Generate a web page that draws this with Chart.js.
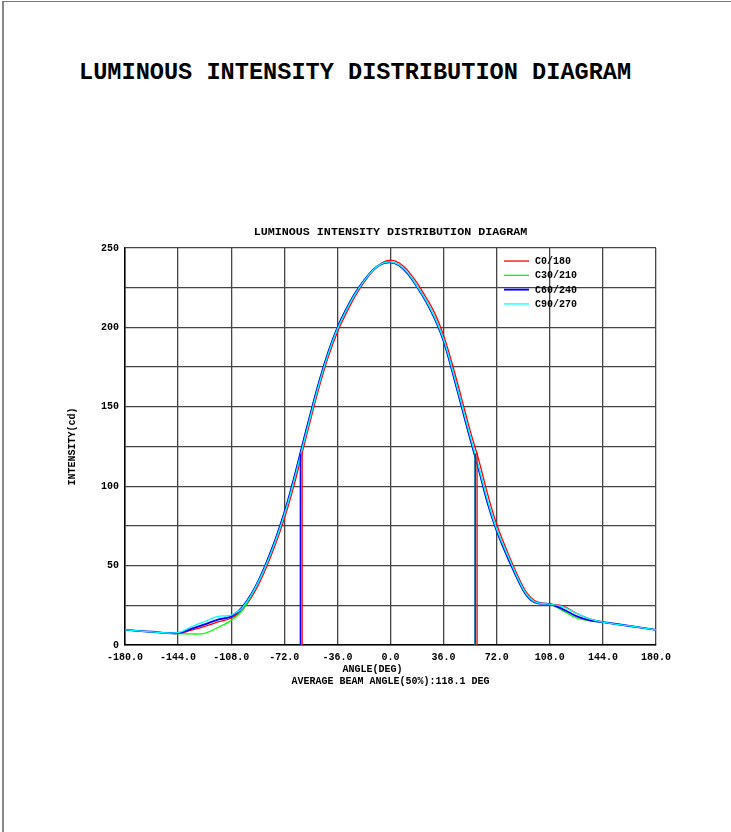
<!DOCTYPE html>
<html>
<head>
<meta charset="utf-8">
<script src="https://cdn.jsdelivr.net/npm/chart.js@4/dist/chart.umd.min.js"></script>
<style>
  body { margin: 0; background: #fff; width: 731px; height: 832px; position: relative; overflow: hidden; }
  #frame { position: absolute; left: 2px; top: 1px; width: 729px; height: 831px; border-left: 2px solid #888; border-top: 1px solid #777; box-sizing: border-box; }
  #bigTitle { position: absolute; left: 79px; top: 59px; font: bold 23.6px "Liberation Mono", monospace; line-height: 28px; white-space: nowrap; color: #000; }
  #chart { position: absolute; left: 0; top: 215px; }
</style>
</head>
<body>
<div id="frame"></div>
<div id="bigTitle">LUMINOUS INTENSITY DISTRIBUTION DIAGRAM</div>
<canvas id="chart" width="731" height="480"></canvas>
<script>
// angles in degrees
var angles = [-180,-162,-144,-135,-126,-117,-108,-100,-90,-80,-72,-66,-60,-54,-48,-42,-36,-30,-24,-18,-12,-6,0,
              6,12,18,24,30,36,42,48,54,60,66,72,80,90,95,100,108,117,126,135,144,162,180];

// intensity (cd) per C-plane
var c0 = [9.5,8.3,7.3,9.4,11.7,14.5,17,22.5,37,58.5,79.5,98.5,120.5,142.5,163.5,182,197,209,219.5,228.3,235.5,240.6,242.4,
          240.6,235.5,228,219,209,195,176.5,156,135,116,94.5,76,57,36.5,30,27,25.8,24.5,20,16.5,14.4,12,9.5];
var c30 = [9.5,8.3,7.2,7,7.3,11,15.5,22.5,39.5,61.5,83.3,103,124.8,146.5,167,185,199.8,211.5,221.5,229.5,236,240,241,
           239,233.5,225.5,216.5,205.5,191.5,172,151,130,110,89,72,54,34.5,28.5,26.3,25.8,21.5,17,15.3,14.4,12,9.5];
var c60 = [9.5,8.3,7.5,10.2,13,16,18,24.3,39.5,61.5,83.3,103,124.8,146.5,167,185,199.8,211.5,221.5,229.5,236,240,241,
           239,233.5,225.5,216.5,205.5,191.5,172,151,130,110,89,72,54,34.5,28.5,26.3,25.8,22.5,18.2,15.5,14.4,12,9.5];
var c90 = [9.5,8.3,7.8,11.5,14.8,18,18.8,24,39,60.5,82,101.6,123.3,145,165.8,184,199,210.8,221,229.2,235.9,240.2,241.3,
           239.3,234,226,217.2,206.3,192.5,173.3,152.5,131.5,111.5,90.5,73,55.3,35.2,29,26.5,25.8,24,20,16.5,14.4,12,9.5];

var planeNames = ['C0/180', 'C30/210', 'C60/240', 'C90/270'];
var planeColors = ['#ff0000', '#00ff00', '#0000ff', '#00ffff'];

// 50% beam edges (left, right) and half intensity
var beamLeft = [-59.9, -61.0, -61.1, -60.7];
var beamRight = [58.7, 57.3, 57.4, 57.7];
var beamHalf = [121.2, 120.5, 120.5, 120.6];

var xTicks = [-180, -144, -108, -72, -36, 0, 36, 72, 108, 144, 180];
var yLabels = [0, 50, 100, 150, 200, 250];

var series = [c0, c30, c60, c90];
var widths = [1.3, 1.3, 1.9, 1.3];
var curveOrder = [3, 2, 1, 0];
var beamOrder = [1, 3, 0, 2];

var datasets = [];
series.forEach(function(s, i) {
  datasets.push({
    label: planeNames[i],
    data: angles.map(function(a, k) { return { x: a, y: s[k] }; }),
    borderColor: planeColors[i],
    borderWidth: widths[i],
    pointRadius: 0,
    tension: 0.4,
    order: curveOrder[i] + 4
  });
});
// beam angle markers
series.forEach(function(s, i) {
  datasets.push({
    label: 'beam ' + planeNames[i],
    data: [
      { x: beamLeft[i], y: 0 }, { x: beamLeft[i], y: beamHalf[i] },
      { x: 0, y: null },
      { x: beamRight[i], y: 0 }, { x: beamRight[i], y: beamHalf[i] }
    ],
    borderColor: planeColors[i],
    borderWidth: 1.3,
    pointRadius: 0,
    tension: 0,
    spanGaps: false,
    order: beamOrder[i]
  });
});

var monoFont = { family: '"Liberation Mono", monospace', size: 10, weight: 'bold' };

// legend drawn inside the plot, top right
var insideLegend = {
  id: 'insideLegend',
  afterDatasetsDraw: function(chart) {
    var ctx = chart.ctx, area = chart.chartArea;
    ctx.save();
    ctx.font = 'bold 10px "Liberation Mono", monospace';
    ctx.textBaseline = 'middle';
    ctx.fillStyle = '#000';
    planeNames.forEach(function(name, i) {
      var y = area.top + 13 + i * 14.3;
      var x = area.right - 152;
      ctx.strokeStyle = planeColors[i];
      ctx.lineWidth = widths[i];
      ctx.beginPath();
      ctx.moveTo(x, y);
      ctx.lineTo(x + 25, y);
      ctx.stroke();
      ctx.fillText(name, x + 31, y + 0.5);
    });
    ctx.restore();
  }
};

var ctx = document.getElementById('chart').getContext('2d');
var myChart = new Chart(ctx, {
  type: 'line',
  data: { datasets: datasets },
  plugins: [insideLegend],
  options: {
    responsive: false,
    animation: false,
    devicePixelRatio: 1,
    layout: { padding: { left: 65, right: 75, top: 0, bottom: 5 } },
    plugins: {
      legend: { display: false },
      tooltip: { enabled: false },
      title: {
        display: true,
        fullSize: false,
        text: 'LUMINOUS INTENSITY DISTRIBUTION DIAGRAM',
        color: '#000',
        font: { family: '"Liberation Mono", monospace', size: 11.7, weight: 'bold', lineHeight: 1.2 },
        padding: { top: 10, bottom: 9 }
      }
    },
    scales: {
      x: {
        type: 'linear',
        min: -180,
        max: 180,
        afterFit: function(scale) { scale.height = 45; },
        afterBuildTicks: function(scale) {
          scale.ticks = xTicks.map(function(v) { return { value: v }; });
        },
        grid: { color: '#444', lineWidth: 1.3, drawTicks: false },
        border: { color: '#000', width: 1.5 },
        ticks: {
          color: '#000',
          font: monoFont,
          padding: 6,
          maxRotation: 0,
          autoSkip: false,
          callback: function(v) { return Number(v).toFixed(1); }
        },
        title: {
          display: true,
          text: ['ANGLE(DEG)      ', 'AVERAGE BEAM ANGLE(50%):118.1 DEG'],
          color: '#000',
          font: { family: '"Liberation Mono", monospace', size: 10, weight: 'bold', lineHeight: 1.2 },
          padding: { top: 0, bottom: 3 }
        }
      },
      y: {
        min: 0,
        max: 250,
        afterFit: function(scale) { scale.width = 60; },
        grid: { color: '#444', lineWidth: 1.3, drawTicks: false },
        border: { color: '#000', width: 1.5 },
        ticks: {
          stepSize: 25,
          color: '#000',
          font: monoFont,
          padding: 6,
          autoSkip: false,
          callback: function(v) { return yLabels.indexOf(v) >= 0 ? String(v) : ''; }
        },
        title: {
          display: true,
          text: 'INTENSITY(cd)',
          color: '#000',
          font: { family: '"Liberation Mono", monospace', size: 10, weight: 'bold', lineHeight: 1.2 },
          padding: { top: 1, bottom: 0 }
        }
      }
    }
  }
});
</script>
</body>
</html>
